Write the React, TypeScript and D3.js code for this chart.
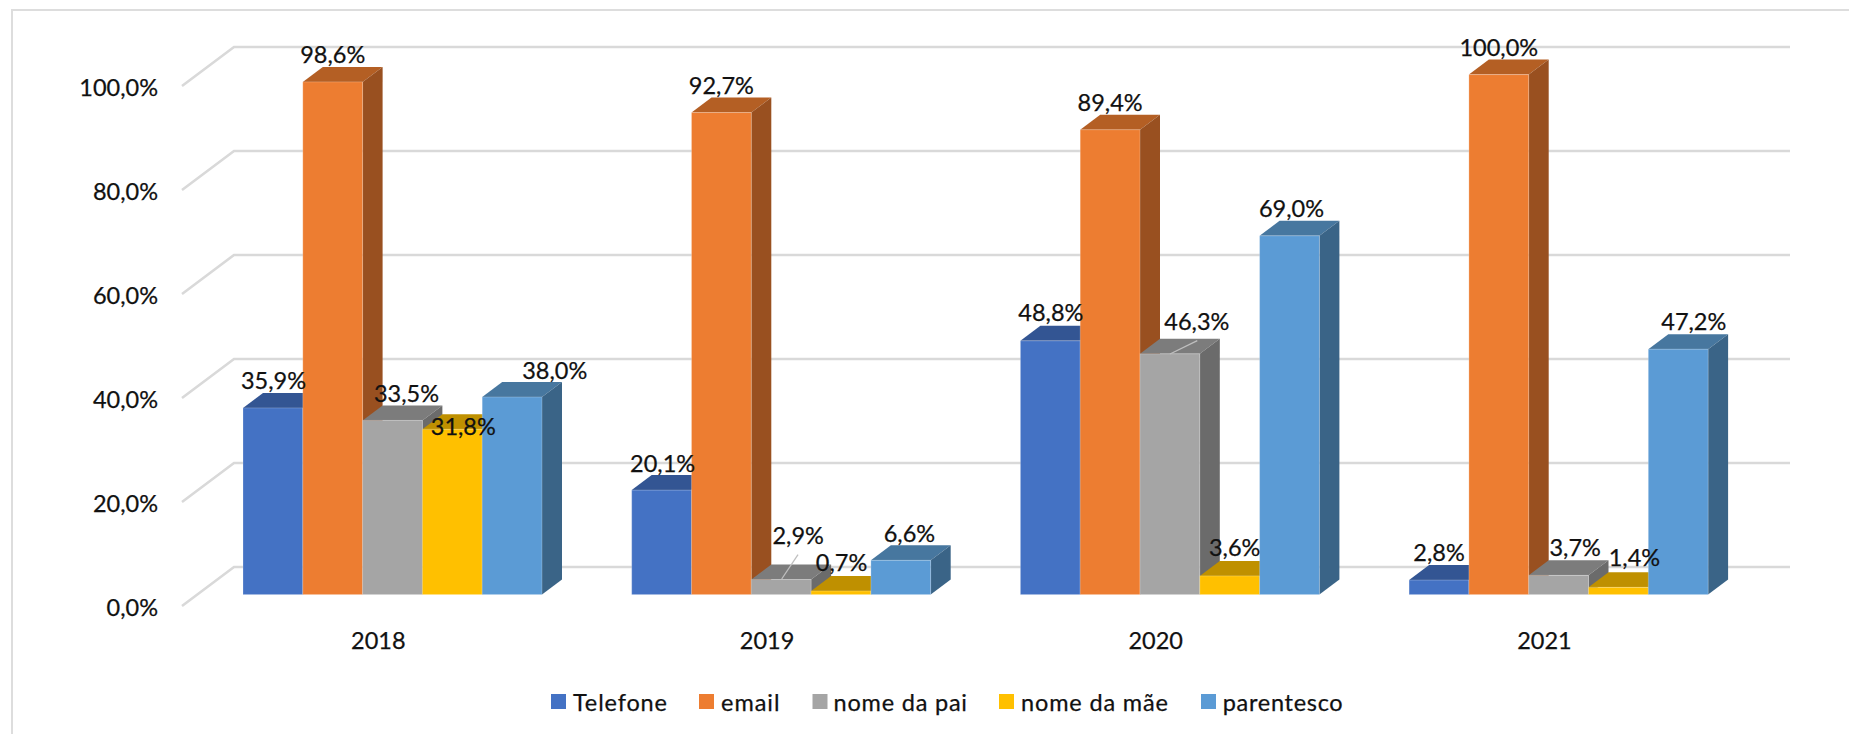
import React from 'react';
import * as d3 from 'd3';

const years = ['2018', '2019', '2020', '2021'];
const seriesNames = ['Telefone', 'email', 'nome da pai', 'nome da mãe', 'parentesco'];
const telefone = [35.9, 20.1, 48.8, 2.8];
const email = [98.6, 92.7, 89.4, 100.0];
const nomePai = [33.5, 2.9, 46.3, 3.7];
const nomeMae = [31.8, 0.7, 3.6, 1.4];
const parentesco = [38.0, 6.6, 69.0, 47.2];
const seriesValues = [telefone, email, nomePai, nomeMae, parentesco];
const yTicks = [0, 20, 40, 60, 80, 100];

// styling
const front = ['#4472C4', '#ED7D31', '#A5A5A5', '#FFC000', '#5B9BD5'];
const top = ['#335593', '#B45F24', '#7C7C7C', '#BF9000', '#47779F'];
const side = ['#2A4880', '#995020', '#6B6B6B', '#A67C00', '#3A6487'];
const legendSwatchX = [551, 699, 812.5, 999, 1201];
const legendTextX = [573, 721, 833.5, 1021, 1222.7];
const legendTextW = [94, 58.5, 133.5, 147, 120];
// label nudges [dx, dy] from bar centre / top, by series then year
const nudges = [
  [[0.6, -27.5], [1, -27.5], [0.6, -28.5], [0, -28]],
  [[0, -28], [0, -27.5], [0, -28], [0, -28]],
  [[14, -27.5], [17, -44.5], [27, -32.5], [16.6, -28]],
  [[11, -3.5], [0.5, -29], [5, -28.5], [16, -30.5]],
  [[42.6, -27.5], [8.6, -27.5], [2, -27.5], [15.6, -28]],
];

const FONT = 'Lato, sans-serif';
const FS = 23.5;
const DX = 20, DY = 15; // bar depth
const WX = 52, WY = 39; // wall depth
const fmt = (v: number) => v.toFixed(1).replace('.', ',') + '%';

export default function App() {
  const y = d3.scaleLinear().domain([0, 100]).range([594.6, 74.6]);
  const x0 = d3.scaleBand().domain(years).range([182, 1736.8]);
  const x1 = d3.scaleBand().domain(seriesNames).range([61, 360]);
  const bw = x1.bandwidth();
  const wallLeft = 182, wallRight = 1790;
  const frontShiftY = 11.4;

  const grid = d3.line();
  const textProps = { fontFamily: FONT, fontSize: FS, fill: '#111', stroke: '#111', strokeWidth: 0.25, dominantBaseline: 'central' as const };

  return (
    <svg width={1849} height={734} style={{ position: 'absolute', left: 0, top: 0, display: 'block', background: '#fff' }}>
      <path d="M12,734V10H1849" fill="none" stroke="#DDDDDD" strokeWidth={2} />
      {yTicks.map((t) => {
        const yf = y(t) + frontShiftY;
        return (
          <g key={t}>
            <path
              d={grid([[wallLeft, yf], [wallLeft + WX, yf - WY], [wallRight, yf - WY]]) as string}
              fill="none" stroke="#D9D9D9" strokeWidth={2.6}
            />
            <text x={158} y={yf + 1} textAnchor="end" {...textProps}>{fmt(t)}</text>
          </g>
        );
      })}
      {years.map((yr, i) => (
        <g key={yr}>
          {seriesNames.map((s, k) => {
            const v = seriesValues[k][i];
            const xl = (x0(yr) as number) + (x1(s) as number);
            const xr = xl + bw;
            const yt = y(v), yb = y(0);
            return (
              <g key={s}>
                <path d={`M${xl},${yt}L${xl + DX},${yt - DY}H${xr + DX}L${xr},${yt}Z`} fill={top[k]} />
                <path d={`M${xr},${yt}L${xr + DX},${yt - DY}V${yb - DY}L${xr},${yb}Z`} fill={side[k]} />
                <rect x={xl} y={yt} width={bw} height={yb - yt} fill={front[k]} stroke="#fff" strokeOpacity={0.22} strokeWidth={1} />
              </g>
            );
          })}
        </g>
      ))}
      <path d="M781.7,579L798,554.7" stroke="#BFBFBF" strokeWidth={1.3} fill="none" />
      <path d="M1170,354L1197.3,340.7" stroke="#BFBFBF" strokeWidth={1.3} fill="none" />
      {years.map((yr, i) =>
        seriesNames.map((s, k) => {
          const v = seriesValues[k][i];
          const cx = (x0(yr) as number) + (x1(s) as number) + bw / 2;
          const [dx, dy] = nudges[k][i];
          return (
            <text key={yr + s} x={cx + dx} y={y(v) + dy} textAnchor="middle" {...textProps}>{fmt(v)}</text>
          );
        })
      )}
      {years.map((yr) => (
        <text key={yr} x={(x0(yr) as number) + x0.bandwidth() / 2 + 2} y={639.5} textAnchor="middle" {...textProps}>{yr}</text>
      ))}
      {seriesNames.map((s, k) => (
        <g key={s}>
          <rect x={legendSwatchX[k]} y={694} width={15} height={15} fill={front[k]} />
          <text x={legendTextX[k]} y={702} textLength={legendTextW[k]} lengthAdjust="spacing" {...textProps}>{s}</text>
        </g>
      ))}
    </svg>
  );
}
